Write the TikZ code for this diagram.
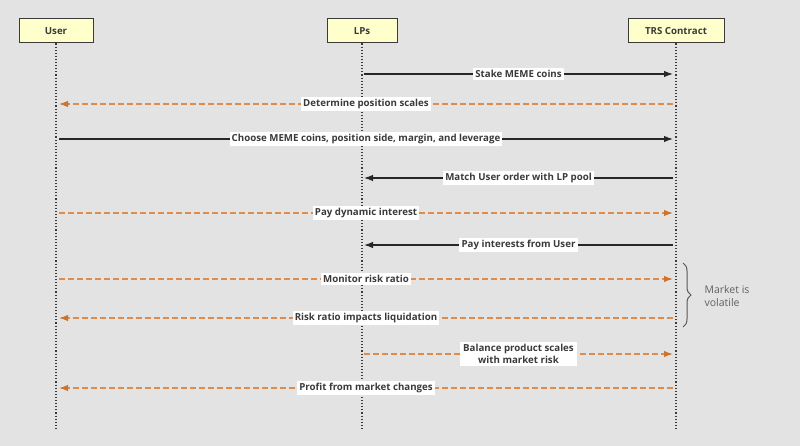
\documentclass[tikz,border=0pt]{standalone}
\usepackage{fontspec}
\setmainfont{Open Sans}
\usetikzlibrary{arrows.meta, decorations.pathreplacing, positioning, calc}
\tikzset{>={Latex[length=9pt,width=6.5pt]}}
\definecolor{bggray}{RGB}{227,227,227}
\definecolor{boxfill}{RGB}{255,255,204}
\definecolor{inkgray}{RGB}{58,58,58}
\definecolor{msgorange}{RGB}{222,140,78}
\definecolor{tiporange}{RGB}{204,116,46}

\begin{document}
\begin{tikzpicture}[x=1pt,y=-1pt,font=\bfseries\fontsize{9.7}{11.5}\selectfont]

        % Setup the styles
        \tikzset{actor style/.style={draw=inkgray,
                                     line width=1pt,
                                     fill=boxfill,
                                     text=inkgray,
                                     minimum height=24pt,
                                     inner sep=0pt},
                 lifeline/.style={draw=inkgray, line width=1.1pt, dotted},
                 call/.style={->, line width=1.2pt, draw=black!85},
                 reply/.style={-{Latex[length=9pt,width=6.5pt,color=tiporange]},
                               line width=1.3pt, draw=msgorange,
                               dash pattern=on 6pt off 3pt},
                 msg label/.style={fill=white, text=inkgray, inner sep=2.2pt,
                                   align=center}}

        % Background
        \fill[bggray] (0,0) rectangle (800,446);
        \useasboundingbox (0,0) rectangle (800,446);

        % Draw the actors
        \node[actor style, minimum width=74pt] at (56,31)  (user) {User};
        \node[actor style, minimum width=70pt] at (362,31) (lps)  {LPs};
        \node[actor style, minimum width=96pt] at (676,31) (trs)  {TRS Contract};

        % Draw the lifelines
        \coordinate (user end) at (user.south |- 0,428);
        \coordinate (lps end)  at (lps.south |- 0,428);
        \coordinate (trs end)  at (trs.south |- 0,428);
        \draw[lifeline] (user.south) -- (user end);
        \draw[lifeline] (lps.south)  -- (lps end);
        \draw[lifeline] (trs.south)  -- (trs end);

        % Message rows on each lifeline
        \foreach \n/\y in {1/74, 2/104, 3/139, 4/178, 5/213,
                           6/245, 7/279, 8/318, 9/354, 10/388} {
            \coordinate (u\n) at ($(user.south |- 0,\y)+(3,0)$);
            \coordinate (l\n) at ($(lps.south |- 0,\y)+(2,0)$);
            \coordinate (t\n) at ($(trs.south |- 0,\y)+(-3,0)$);
        }

        % Connect the lifelines with messages
        \draw (l1) edge[call]  node[msg label] {Stake MEME coins} (t1)
              (t2) edge[reply] node[msg label] {Determine position scales} (u2)
              (u3) edge[call]  node[msg label] {Choose MEME coins, position side, margin, and leverage} (t3)
              (t4) edge[call]  node[msg label] {Match User order with LP pool} (l4)
              (u5) edge[reply] node[msg label] {Pay dynamic interest} (t5)
              (t6) edge[call]  node[msg label] {Pay interests from User} (l6)
              (u7) edge[reply] node[msg label] {Monitor risk ratio} (t7)
              (t8) edge[reply] node[msg label] {Risk ratio impacts liquidation} (u8)
              (l9) edge[reply] node[msg label, inner sep=3pt] {Balance product scales\\with market risk} (t9)
              (t10) edge[reply] node[msg label] {Profit from market changes} (u10);

        % Market brace
        \coordinate (brace top) at (683,263);
        \coordinate (brace bottom) at (683,327);
        \draw[inkgray!85, line width=1pt, decorate,
              decoration={brace, amplitude=8pt}] (brace top) -- (brace bottom);
        \node[anchor=west, align=left, text=inkgray!80,
              font=\mdseries\fontsize{10.5}{12.5}\selectfont] at (701,296) (market) {Market is\\volatile};
    \end{tikzpicture}
\end{document}
